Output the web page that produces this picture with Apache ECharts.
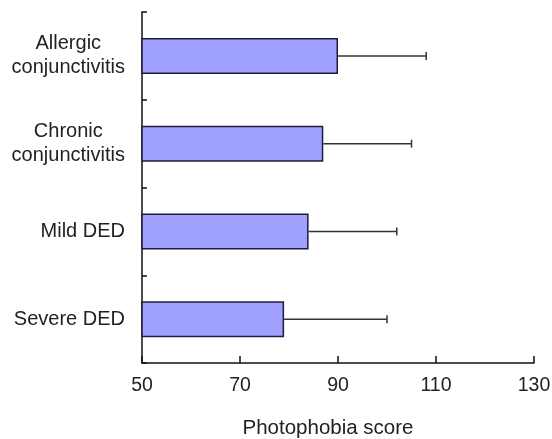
<!DOCTYPE html>
<html>
<head>
<meta charset="utf-8">
<script src="https://cdn.jsdelivr.net/npm/echarts@6/dist/echarts.min.js"></script>
<style>
  html, body { margin: 0; padding: 0; background: #fff; }
  #chart { width: 552px; height: 439px; }
</style>
</head>
<body>
<div id="chart"></div>
<script>
// Groups, top to bottom
const groups = ['Allergic\nconjunctivitis', 'Chronic\nconjunctivitis', 'Mild DED', 'Severe DED'];
// Mean photophobia score per group
const meanScores = [90, 87, 84, 79];
// Upper end of each error bar (mean + SD)
const upperScores = [108, 105, 102, 100];
// Value axis ticks
const xTicks = [50, 70, 90, 110, 130];

const FONT = '"Liberation Sans", Arial, sans-serif';
const TEXT_COLOR = '#222';

const chart = echarts.init(document.getElementById('chart'), null, { renderer: 'canvas' });

const errorData = groups.map((g, i) => [i, meanScores[i], upperScores[i]]);

chart.setOption({
  animation: false,
  backgroundColor: '#fff',
  grid: { left: 142, right: 18, top: 12, bottom: 76, containLabel: false, outerBoundsMode: 'none' },
  xAxis: {
    type: 'value',
    min: xTicks[0],
    max: xTicks[xTicks.length - 1],
    interval: xTicks[1] - xTicks[0],
    name: 'Photophobia score',
    nameLocation: 'middle',
    nameGap: 55,
    nameTextStyle: { fontFamily: FONT, fontSize: 20.5, color: TEXT_COLOR, padding: [0, 20, 0, 0] },
    axisLine: { show: true, lineStyle: { color: '#111', width: 1.5 } },
    axisTick: { show: true, inside: true, length: 7, lineStyle: { color: '#111', width: 1.5 } },
    axisLabel: { fontFamily: FONT, fontSize: 19.5, color: TEXT_COLOR, margin: 13 },
    splitLine: { show: false }
  },
  yAxis: {
    type: 'category',
    data: groups,
    inverse: true,
    axisLine: { show: true, lineStyle: { color: '#111', width: 1.5 } },
    axisTick: { show: true, inside: true, length: 5, lineStyle: { color: '#111', width: 1.5 } },
    axisLabel: {
      fontFamily: FONT,
      fontSize: 20,
      color: TEXT_COLOR,
      margin: 17,
      align: 'right',
      lineHeight: 24,
      formatter: function (v) {
        return v.split('\n').map(s => '{c|' + s + '}').join('\n');
      },
      rich: {
        c: { align: 'center', fontFamily: FONT, fontSize: 20, color: TEXT_COLOR, lineHeight: 24 }
      }
    },
    splitLine: { show: false }
  },
  series: [
    {
      type: 'bar',
      data: meanScores,
      barWidth: 36,
      itemStyle: { color: '#a0a0ff', borderColor: '#1c1c3c', borderWidth: 1.5 },
      z: 2
    },
    {
      type: 'custom',
      data: errorData,
      encode: { x: [1, 2], y: 0 },
      z: 3,
      renderItem: function (params, api) {
        const cat = api.value(0);
        const p0 = api.coord([api.value(1), cat]);
        const p1 = api.coord([api.value(2), cat]);
        const half = 4;
        const style = { stroke: '#333', lineWidth: 1.5 };
        return {
          type: 'group',
          children: [
            { type: 'line', shape: { x1: p0[0], y1: p0[1], x2: p1[0], y2: p1[1] }, style: style },
            { type: 'line', shape: { x1: p1[0], y1: p1[1] - half, x2: p1[0], y2: p1[1] + half }, style: style }
          ]
        };
      }
    }
  ]
});
</script>
</body>
</html>
